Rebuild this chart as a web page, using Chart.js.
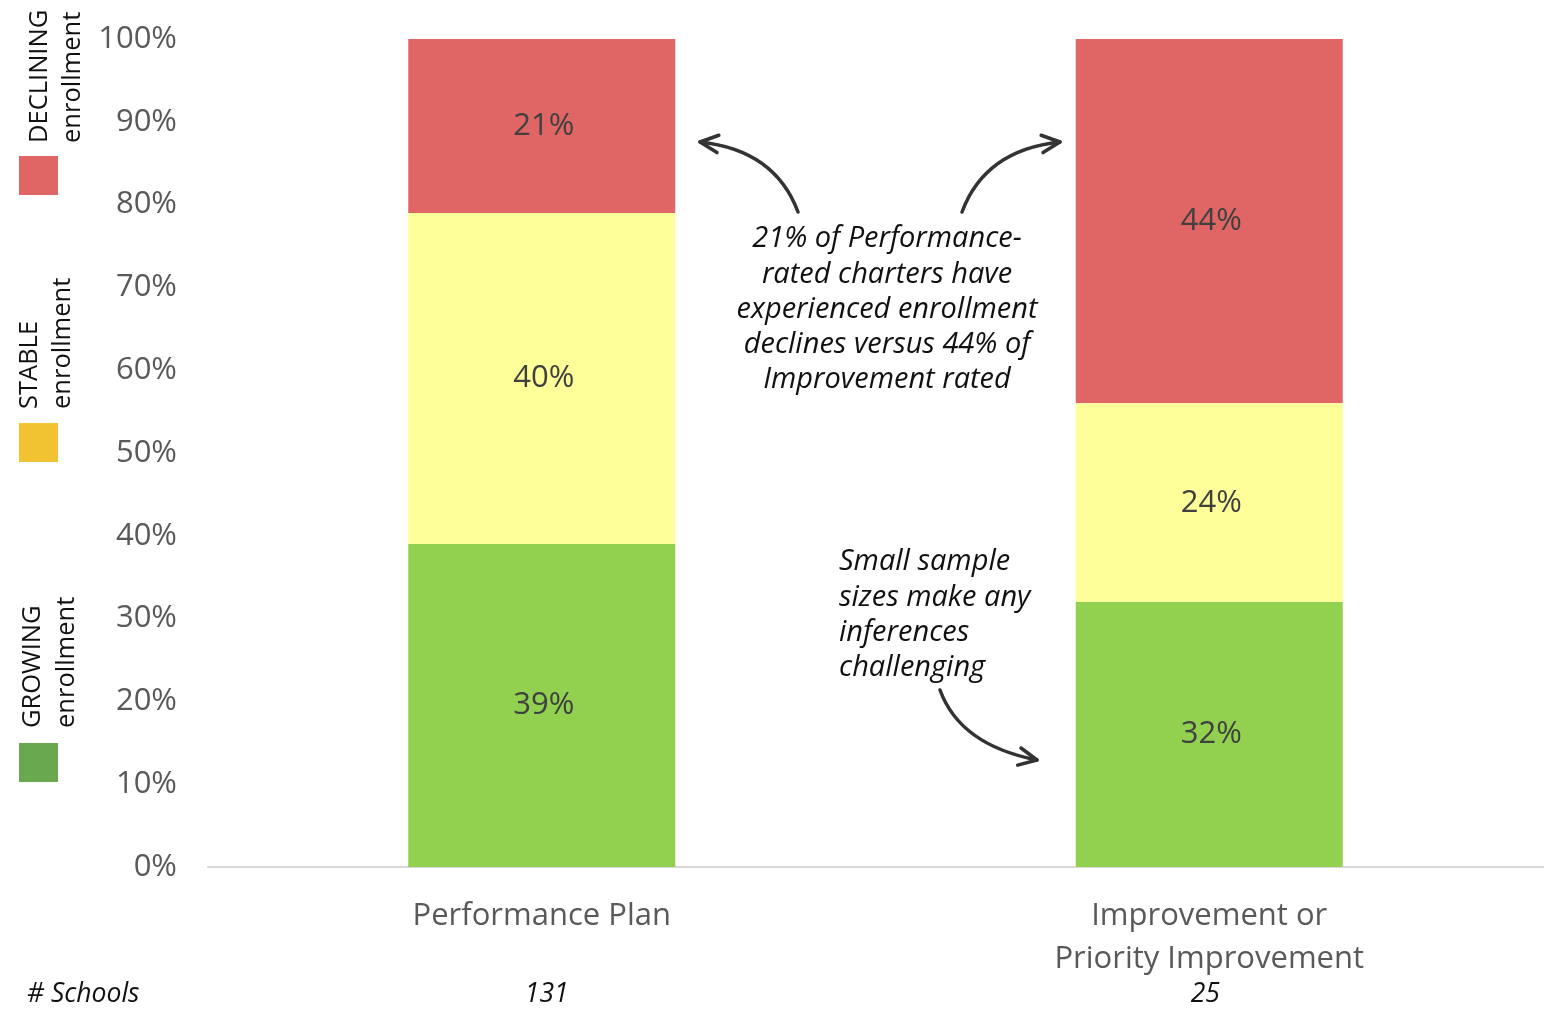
<!DOCTYPE html>
<html>
<head>
<meta charset="utf-8">
<script src="https://cdn.jsdelivr.net/npm/chart.js@4.4.1/dist/chart.umd.min.js"></script>
<style>
  html, body { margin: 0; padding: 0; background: #fff; }
  #wrap { width: 1549px; height: 1009px; position: relative; }
</style>
</head>
<body>
<div id="wrap"><canvas id="enrollChart" width="1549" height="1009"></canvas></div>
<script>
// Chart data
const categories = [['Performance Plan'], ['Improvement or', 'Priority Improvement']];
const schoolCounts = ['131', '25'];
const growing = [39, 32];
const stable = [40, 24];
const declining = [21, 44];
const yTicks = [0, 10, 20, 30, 40, 50, 60, 70, 80, 90, 100];

const FONT = '"Open Sans", "DejaVu Sans", sans-serif';

// Draws the % labels inside each bar segment
const segmentLabels = {
    id: 'segmentLabels',
    afterDatasetsDraw(chart) {
        const ctx = chart.ctx;
        ctx.save();
        ctx.font = '31px ' + FONT;
        ctx.fillStyle = '#404040';
        ctx.textAlign = 'center';
        ctx.textBaseline = 'middle';
        chart.data.datasets.forEach((ds, i) => {
            chart.getDatasetMeta(i).data.forEach((bar, j) => {
                const mid = (bar.y + bar.base) / 2;
                ctx.fillText(ds.data[j] + '%', bar.x + 2, mid);
            });
        });
        ctx.restore();
    }
};

// Side legend, notes, arrows and school counts
function drawArrow(ctx, x0, y0, cx, cy, x1, y1) {
    ctx.beginPath();
    ctx.moveTo(x0, y0);
    ctx.quadraticCurveTo(cx, cy, x1, y1);
    ctx.stroke();
    const ang = Math.atan2(y1 - cy, x1 - cx);
    const len = 20;
    ctx.beginPath();
    ctx.moveTo(x1 - len * Math.cos(ang - 0.45), y1 - len * Math.sin(ang - 0.45));
    ctx.lineTo(x1, y1);
    ctx.lineTo(x1 - len * Math.cos(ang + 0.45), y1 - len * Math.sin(ang + 0.45));
    ctx.stroke();
}

const extras = {
    id: 'extras',
    afterDraw(chart) {
        const ctx = chart.ctx;
        ctx.save();

        // legend swatches + rotated captions
        const legend = [
            { color: '#e06666', y: 156, bottom: 143, a: 'DECLINING', xa: 47, xb: 80 },
            { color: '#f1c232', y: 423, bottom: 409, a: 'STABLE', xa: 37, xb: 70 },
            { color: '#6aa84f', y: 743, bottom: 728, a: 'GROWING', xa: 40, xb: 74 }
        ];
        legend.forEach(item => {
            ctx.fillStyle = item.color;
            ctx.fillRect(19, item.y, 39, 39);
            ctx.fillStyle = '#111';
            ctx.font = '25.5px ' + FONT;
            ctx.textAlign = 'left';
            ctx.textBaseline = 'alphabetic';
            [[item.a, item.xa], ['enrollment', item.xb]].forEach(([txt, x]) => {
                ctx.save();
                ctx.translate(x, item.bottom);
                ctx.rotate(-Math.PI / 2);
                ctx.fillText(txt, 0, 0);
                ctx.restore();
            });
        });

        // annotations
        ctx.fillStyle = '#111';
        ctx.font = 'italic 29px ' + FONT;
        ctx.textBaseline = 'middle';
        ctx.textAlign = 'center';
        const note1 = ['21% of Performance-', 'rated charters have', 'experienced enrollment',
            'declines versus 44% of', 'Improvement rated'];
        note1.forEach((line, i) => ctx.fillText(line, 887, 239 + i * 35.3));

        ctx.textAlign = 'left';
        const note2 = ['Small sample', 'sizes make any', 'inferences', 'challenging'];
        note2.forEach((line, i) => ctx.fillText(line, 839, 562 + i * 35.3));

        // arrows
        ctx.strokeStyle = '#333';
        ctx.lineWidth = 3.5;
        ctx.lineCap = 'round';
        ctx.lineJoin = 'round';
        drawArrow(ctx, 798, 212, 775, 150, 700, 142);
        drawArrow(ctx, 962, 212, 985, 150, 1060, 142);
        drawArrow(ctx, 940, 690, 960, 745, 1037, 760);

        // # Schools row
        ctx.font = 'italic 26.5px ' + FONT;
        ctx.textBaseline = 'middle';
        ctx.textAlign = 'left';
        ctx.fillText('# Schools', 27, 994);
        ctx.textAlign = 'center';
        const xs = chart.scales.x;
        schoolCounts.forEach((c, i) => ctx.fillText(c, xs.getPixelForValue(i) + [5, -4][i], 994));

        ctx.restore();
    }
};

const ctx = document.getElementById('enrollChart').getContext('2d');
new Chart(ctx, {
    type: 'bar',
    data: {
        labels: categories,
        datasets: [
            { label: 'Growing', data: growing, backgroundColor: '#92d050' },
            { label: 'Stable', data: stable, backgroundColor: '#ffff99' },
            { label: 'Declining', data: declining, backgroundColor: '#e06666' }
        ]
    },
    options: {
        responsive: false,
        animation: false,
        devicePixelRatio: 1,
        layout: { padding: { top: 39, right: 6, left: 0, bottom: 0 } },
        plugins: {
            legend: { display: false },
            tooltip: { enabled: false }
        },
        datasets: {
            bar: { barPercentage: 0.4, categoryPercentage: 1.0, borderWidth: 0 }
        },
        scales: {
            x: {
                stacked: true,
                grid: { display: false, drawTicks: false },
                border: { display: true, color: '#d9d9d9', width: 2 },
                ticks: {
                    font: { family: FONT, size: 31, lineHeight: 1.4 },
                    color: '#595959',
                    padding: 27,
                    maxRotation: 0
                },
                afterFit(scale) {
                    scale.height = 142;
                    scale.paddingLeft = 0;
                    scale.paddingRight = 0;
                }
            },
            y: {
                stacked: true,
                min: 0,
                max: 100,
                afterBuildTicks(scale) {
                    scale.ticks = yTicks.map(v => ({ value: v }));
                },
                grid: { display: false, drawTicks: false },
                border: { display: false },
                ticks: {
                    font: { family: FONT, size: 31 },
                    color: '#595959',
                    padding: 31,
                    callback: v => v + '%'
                },
                afterFit(scale) {
                    scale.width = 208;
                    scale.paddingTop = 0;
                    scale.paddingBottom = 0;
                }
            }
        }
    },
    plugins: [segmentLabels, extras]
});
</script>
</body>
</html>
